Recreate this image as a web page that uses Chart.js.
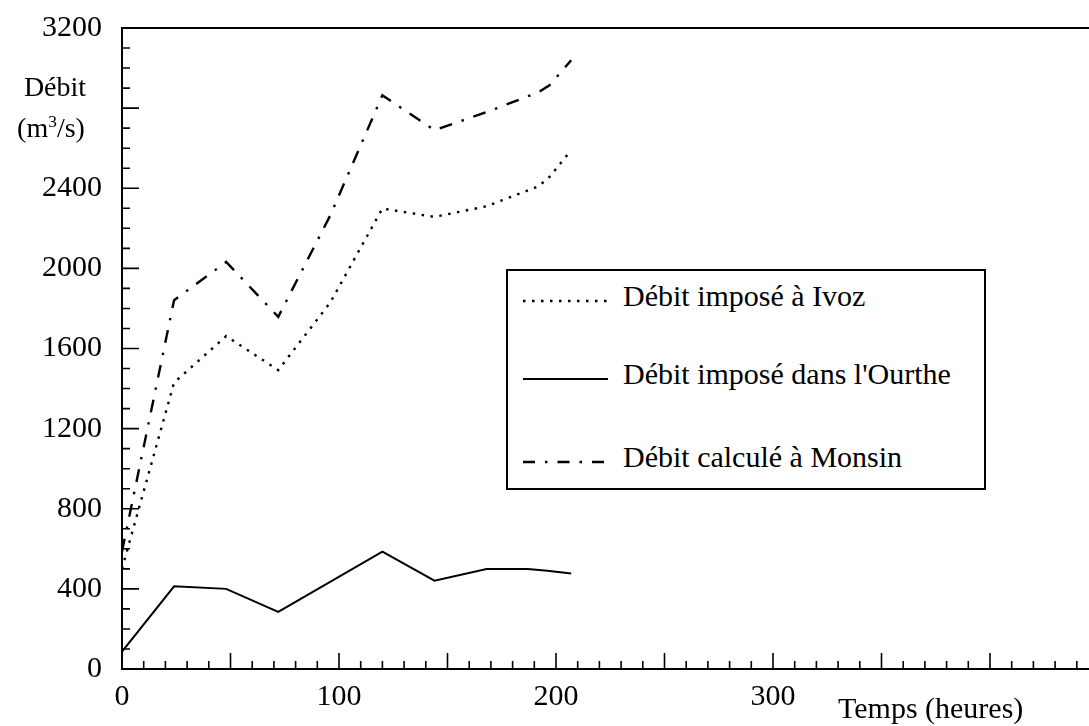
<!DOCTYPE html>
<html><head><meta charset="utf-8">
<script src="https://cdn.jsdelivr.net/npm/chart.js@4.4.1/dist/chart.umd.min.js"></script>
<style>
html,body{margin:0;padding:0;background:#fff;overflow:hidden;width:1089px;height:726px;}
#wrap{position:absolute;left:0;top:0;width:1100px;height:726px;}
.t{position:absolute;font-family:'Liberation Serif','Times New Roman',serif;color:#000;white-space:nowrap;line-height:1;}
sup{font-size:0.62em;line-height:0;vertical-align:0.55em;}
#legend{position:absolute;left:506px;top:269px;width:476px;height:217px;border:2px solid #000;background:#fff;}
</style></head><body>
<div id="wrap"><canvas id="c"></canvas></div>
<div class="t" style="left:15px;top:73px;width:80px;text-align:center;font-size:28px;">Débit</div>
<div class="t" style="left:11px;top:114px;width:80px;text-align:center;font-size:28px;">(m<sup>3</sup>/s)</div>
<div class="t" style="left:838px;top:693px;font-size:30px;">Temps (heures)</div>
<div id="legend"></div>
<script>
// ---- data ----
const seriesNames = ['Débit imposé à Ivoz', "Débit imposé dans l'Ourthe", 'Débit calculé à Monsin'];
const hoursIvoz   = [0, 24, 48, 72, 96, 120, 144, 168, 192, 197, 207];
const flowIvoz    = [500, 1430, 1662, 1492, 1830, 2299, 2257, 2310, 2410, 2457, 2590];
const hoursOurthe = [0, 24, 48, 72, 120, 144, 168, 187, 196, 207];
const flowOurthe  = [87, 413, 400, 285, 586, 441, 499, 499, 490, 477];
const hoursMonsin = [0, 24, 48, 72, 96, 120, 144, 168, 192, 197, 207];
const flowMonsin  = [587, 1841, 2032, 1758, 2265, 2864, 2690, 2780, 2880, 2914, 3039];
const yTickLabels = ['0', '400', '800', '1200', '1600', '2000', '2400', '', '3200'];
const xTickLabels = ['0', '100', '200', '300'];

const FONT = "'Liberation Serif','Times New Roman',serif";
const pts = (xs, ys) => xs.map((h, i) => ({x: h, y: ys[i]}));

const styles = [
  {borderDash: [2.5, 6.5], dash: '2.5 6.5'},
  {borderDash: [], dash: ''},
  {borderDash: [13, 10, 2.5, 10], dash: '12 10 2.5 10'}
];

const inwardTicks = {
  id: 'inwardTicks',
  afterDraw(chart) {
    const {ctx, chartArea: a, scales: {x, y}} = chart;
    ctx.save();
    ctx.strokeStyle = '#000';
    ctx.lineWidth = 1.6;
    ctx.beginPath();
    for (let v = 10; v <= x.max; v += 10) {
      const px = x.getPixelForValue(v);
      const len = v % 50 === 0 ? 16 : 8;
      ctx.moveTo(px, a.bottom); ctx.lineTo(px, a.bottom - len);
    }
    for (let v = 100; v < y.max; v += 100) {
      const py = y.getPixelForValue(v);
      const len = v % 400 === 0 ? 17 : 8;
      ctx.moveTo(a.left, py); ctx.lineTo(a.left + len, py);
    }
    ctx.stroke();
    ctx.lineWidth = 2;
    ctx.beginPath();
    ctx.moveTo(a.left, a.top); ctx.lineTo(a.right + 2, a.top);
    ctx.stroke();
    ctx.restore();
  }
};

const data = {
  datasets: [
    {label: seriesNames[0], data: pts(hoursIvoz, flowIvoz)},
    {label: seriesNames[1], data: pts(hoursOurthe, flowOurthe)},
    {label: seriesNames[2], data: pts(hoursMonsin, flowMonsin)}
  ].map((d, i) => Object.assign(d, {
    borderColor: '#000', borderWidth: i === 1 ? 2 : 2.4, borderDash: styles[i].borderDash,
    pointRadius: 0, tension: 0, fill: false, borderCapStyle: 'butt'
  }))
};

new Chart(document.getElementById('c'), {
  type: 'line',
  data,
  options: {
    responsive: true, maintainAspectRatio: false, animation: false,
    layout: {padding: {top: 28, right: 1.5, left: 0, bottom: 0}},
    plugins: {legend: {display: false}, tooltip: {enabled: false}},
    scales: {
      x: {
        type: 'linear', min: 0, max: 450,
        grid: {display: false, drawTicks: false},
        border: {display: true, color: '#000', width: 2},
        ticks: {stepSize: 100, padding: 10, color: '#000', font: {family: FONT, size: 30},
          maxRotation: 0, autoSkip: false,
          callback: (v, i) => xTickLabels[i] !== undefined ? xTickLabels[i] : ''},
        afterFit: s => { s.height = 57; s.paddingLeft = 0; s.paddingRight = 0; }
      },
      y: {
        min: 0, max: 3200,
        grid: {display: false, drawTicks: false},
        border: {display: true, color: '#000', width: 2},
        ticks: {stepSize: 400, padding: 20, color: '#000', font: {family: FONT, size: 30},
          autoSkip: false, callback: (v, i) => yTickLabels[i] !== undefined ? yTickLabels[i] : ''},
        afterFit: s => { s.width = 122; s.paddingTop = 0; s.paddingBottom = 0; }
      }
    }
  },
  plugins: [inwardTicks]
});

// ---- HTML legend ----
const lg = document.getElementById('legend');
const rowY = [30, 108, 191];
let svg = '<svg width="476" height="217" style="position:absolute;left:0;top:0">';
seriesNames.forEach((n, i) => {
  svg += `<line x1="15" x2="100" y1="${rowY[i]}" y2="${rowY[i]}" stroke="#000" stroke-width="${i===1?2:2.4}" ${styles[i].dash ? `stroke-dasharray="${styles[i].dash}"` : ''}/>`;
});
svg += '</svg>';
lg.innerHTML = svg + seriesNames.map((n, i) =>
  `<div class="t" style="left:115px;top:${rowY[i] - 20}px;font-size:30px;">${n}</div>`).join('');
</script>
</body></html>
